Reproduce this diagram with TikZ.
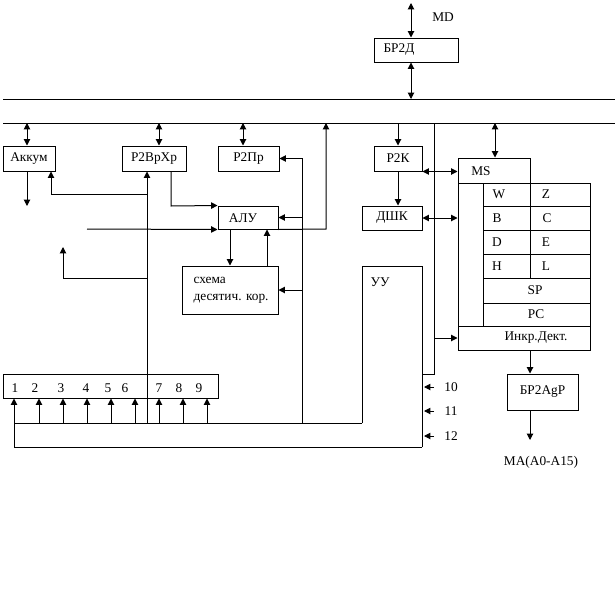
\documentclass[tikz,border=0pt]{standalone}
\usepackage{fontspec}
\setmainfont{Liberation Serif}
\usetikzlibrary{arrows.meta}
\begin{document}
\begin{tikzpicture}[x=0.75pt,y=-0.75pt,line width=0.75pt,
  >={Triangle[width=4.8pt,length=4.8pt]},
  font=\fontsize{10}{12.75}\selectfont,
  rbox/.style n args={2}{draw,rectangle,inner sep=0pt,minimum width=#1*0.75pt,minimum height=#2*0.75pt},
  txt/.style={inner sep=0pt}]
\useasboundingbox (0,0) rectangle (616,603);
% buses
\coordinate (b1L) at (3,99); \coordinate (b1R) at (615,99);
\coordinate (b2L) at (3,123); \coordinate (b2R) at (615,123);
\draw (b1L) -- (b1R);
\draw (b2L) -- (b2R);
% boxes
\node[rbox={84}{24}] (brd) at (416,50) {};
\node[txt] (brdT) at (399,50) {БР2Д};
\node[rbox={52}{25}] (akk) at (29,158.5) {Аккум};
\node[rbox={64}{25}] (rvr) at (154,158.5) {Р2ВрХр};
\node[rbox={61}{25}] (rpr) at (248.5,158.5) {Р2Пр};
\node[rbox={48}{25}] (r2k) at (398,158.5) {Р2К};
\node[rbox={60}{24}] (dshk) at (392,218) {ДШК};
\node[rbox={60}{23}] (alu) at (248,217.5) {};
\node[txt] (aluT) at (243,218) {АЛУ};
\node[rbox={96}{48}] (sch) at (230,290) {};
\node[txt,anchor=west,align=left] (schT) at (193,290) {схема\\десятич. кор.};
\node[rbox={72}{25}] (ms) at (494,170.5) {};
\node[txt] (msT) at (481,171) {MS};
\node[rbox={132}{24}] (ink) at (524,338) {};
\node[txt] (inkT) at (536,338) {Инкр.Дект.};
\node[rbox={71}{36}] (bra) at (542.5,392) {БР2AgP};
\node[rbox={215}{24}] (reg) at (110.5,386) {};
% register grid
\draw (483,183) rectangle (590,326);
\foreach \yy in {206,230,254,278,303} \draw (483,\yy) -- (590,\yy);
\draw (530,183) -- (530,278);
\draw (458,183) -- (458,326);
\node[txt] (rW) at (499,194.5) {W};
\node[txt] (rZ) at (546,194.5) {Z};
\node[txt] (rB) at (497,218) {B};
\node[txt] (rC) at (547,218) {C};
\node[txt] (rD) at (497,242) {D};
\node[txt] (rE) at (546,242) {E};
\node[txt] (rH) at (497,266) {H};
\node[txt] (rL) at (546,266) {L};
\node[txt] (rSP) at (535,290.5) {SP};
\node[txt] (rPC) at (536,314.5) {PC};
% UU
\coordinate (uuTL) at (362,266); \coordinate (uuTR) at (422,266);
\coordinate (uuBL) at (362,423); \coordinate (uuBR) at (422,447);
\draw (uuBL) -- (uuTL) -- (uuTR) -- (uuBR);
\node[txt] (uuT) at (380,282) {УУ};
% register numbers
\foreach \n/\xx in {1/15,2/35,3/61,4/86,5/108,6/125,7/159,8/179,9/199}
  \node[txt] (num\n) at (\xx,388) {\n};
% MD
\coordinate (md) at (411,3);
\node[txt] (mdT) at (443,17) {MD};
\draw[<->] (md) -- (md |- brd.north);
\draw[<->] (md |- brd.south) -- (md |- b1L);
% bus to registers
\coordinate (xa) at (27,0);
\draw[<->] (xa |- b2L) -- (xa |- akk.north);
\coordinate (xb) at (159,0);
\draw[<->] (xb |- b2L) -- (xb |- rvr.north);
\coordinate (xc) at (243,0);
\draw[<->] (xc |- b2L) -- (xc |- rpr.north);
\draw[->] (r2k.north |- b2L) -- (r2k.north);
\coordinate (xm) at (495,0);
\draw[<->] (xm |- b2L) -- (xm |- ms.north);
\draw[->] (r2k.south) -- (r2k.south |- dshk.north);
\draw[<->] (r2k.south east) -- (r2k.south east -| ms.west);
\draw[<->] (dshk.east) -- (dshk.east -| ms.west);
% x=434 line
\coordinate (v434) at (434,123); \coordinate (j434) at (434,374);
\draw (v434) -- (j434) -- (j434 -| uuTR);
\draw[->] (v434 |- ink.west) -- (ink.west);
% Akkum output
\coordinate (akkOut) at (27,206);
\draw[->] (xa |- akk.south) -- (akkOut);
% x=147 line
\coordinate (v147) at (147,423);
\draw[->] (v147) -- (v147 |- rvr.south);
\coordinate (j194) at (147,194); \coordinate (k194) at (51,194);
\draw[->] (j194) -- (k194) -- (k194 |- akk.south);
\coordinate (j278) at (147,278); \coordinate (k278) at (63,278); \coordinate (out63) at (63,247);
\draw[->] (j278) -- (k278) -- (out63);
% ALU input/output
\coordinate (in87) at (87,229);
\draw[->] (in87) -- (alu.south west);
\coordinate (j326) at (326,229);
\draw[->] (alu.south east) -- (j326) -- (j326 |- b2L);
\coordinate (x171) at (171,206);
\draw[->] (x171 |- rvr.south) -- (x171) -- (alu.north west);
% x=302 line
\coordinate (v302) at (302,423);
\draw[->] (v302) -- (v302 |- rpr.east) -- (rpr.east);
\draw[->] (v302 |- alu.east) -- (alu.east);
\draw[->] (v302 |- sch.east) -- (sch.east);
% ALU <-> schema
\coordinate (x230) at (230,0); \coordinate (x267) at (267,0);
\draw[->] (x230 |- alu.south) -- (x230 |- sch.north);
\draw[->] (x267 |- sch.north) -- (x267 |- alu.south);
% bottom lines
\coordinate (c14a) at (14,423);
\draw (uuBL) -- (c14a);
\foreach \xx in {39,63,87,111,135,159,183,207} {
  \coordinate (p) at (\xx,423);
  \draw[->] (p) -- (p |- reg.south);
}
\coordinate (c14b) at (14,447);
\draw[->] (uuBR) -- (c14b) -- (c14b |- reg.south);
% ink -> BR2AgP -> MA
\coordinate (x530) at (530,0);
\draw[->] (x530 |- ink.south) -- (x530 |- bra.north);
\coordinate (maT) at (530,440);
\draw[->] (x530 |- bra.south) -- (maT);
\node[txt] (ma) at (541,462) {MA(A0-A15)};
% inputs 10,11,12
\foreach \n/\yy in {10/387,11/411,12/436} {
  \coordinate (s\n) at (434,\yy);
  \coordinate (e\n) at (424,\yy);
  \draw[->] (s\n) -- (e\n);
  \node[txt] (lab\n) at (451,\yy) {\n};
}
\end{tikzpicture}
\end{document}
